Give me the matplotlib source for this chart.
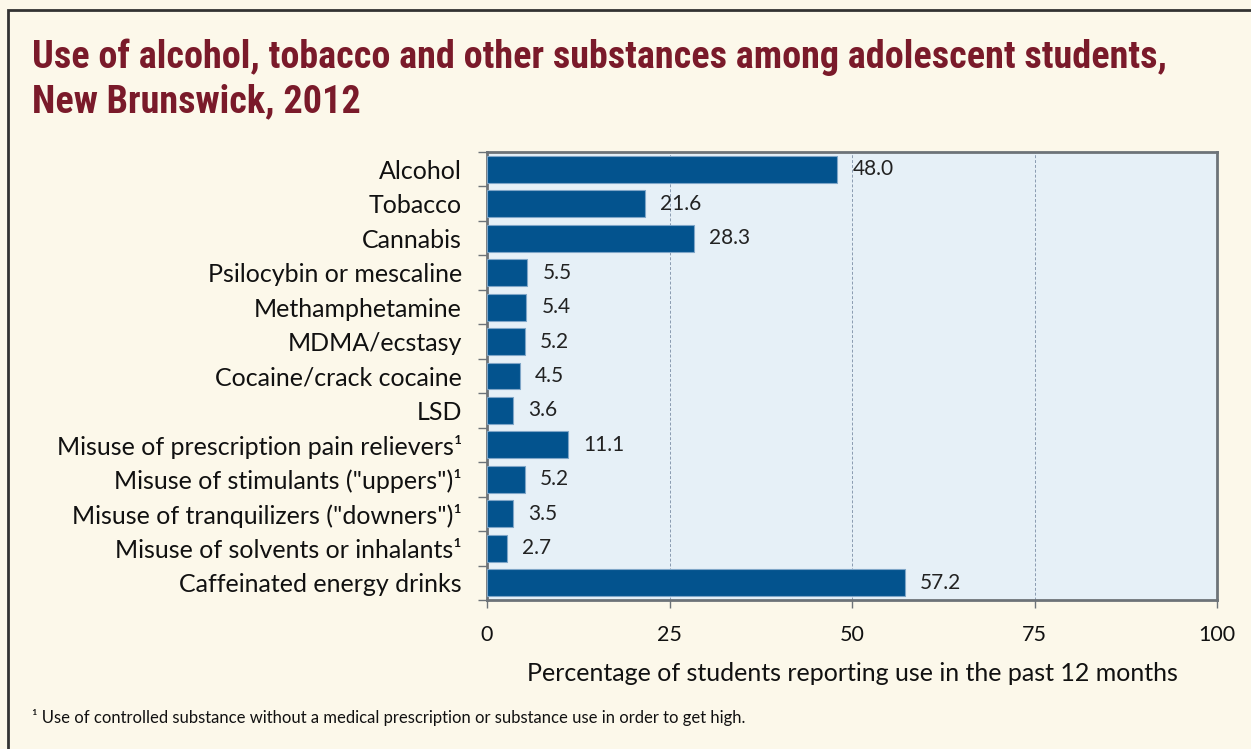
import numpy as np
import matplotlib
matplotlib.use("Agg")
import matplotlib.pyplot as plt
from matplotlib import font_manager
from matplotlib.patches import Rectangle

## Data

categories = [
    "Alcohol",
    "Tobacco",
    "Cannabis",
    "Psilocybin or mescaline",
    "Methamphetamine",
    "MDMA/ecstasy",
    "Cocaine/crack cocaine",
    "LSD",
    "Misuse of prescription pain relievers\u00b9",
    "Misuse of stimulants (\"uppers\")\u00b9",
    "Misuse of tranquilizers (\"downers\")\u00b9",
    "Misuse of solvents or inhalants\u00b9",
    "Caffeinated energy drinks",
]
values = [48.0, 21.6, 28.3, 5.5, 5.4, 5.2, 4.5, 3.6, 11.1, 5.2, 3.5, 2.7, 57.2]
xticks = [0, 25, 50, 75, 100]

title_lines = ["Use of alcohol, tobacco and other substances among adolescent students,",
               "New Brunswick, 2012"]
xlabel = "Percentage of students reporting use in the past 12 months"
footnote = "\u00b9 Use of controlled substance without a medical prescription or substance use in order to get high."

plt.rcParams['font.family'] = ['Lato', 'DejaVu Sans']

bg = '#fcf8ea'
plot_bg = '#e6f0f7'
bar_col = '#03538e'
spine_col = '#6d7378'
title_col = '#7a1a2a'

# pick a narrow bold face for the title if one is installed
title_font = {'family': ['Lato', 'DejaVu Sans']}
for f in font_manager.fontManager.ttflist:
    if f.name in ('Liberation Sans Narrow', 'Roboto Condensed', 'Open Sans Condensed'):
        title_font = {'family': [f.name, 'DejaVu Sans']}
        break
    if f.name == 'DejaVu Sans' and 'condensed' in str(f.stretch):
        title_font = {'family': ['DejaVu Sans'], 'stretch': 'condensed'}

fig = plt.figure(figsize=(12.51, 7.49), dpi=100, facecolor=bg)

# frame round the figure (left and top edges visible, rest cropped)
fig.patches.append(Rectangle((8 / 1251, -0.1), 1.2, 1 - 10 / 749 + 0.1,
                             transform=fig.transFigure, fill=False,
                             edgecolor='#333333', linewidth=2))

ax = fig.add_axes([487 / 1251, 1 - 600 / 749, 730 / 1251, 448 / 749])
ax.set_facecolor(plot_bg)

y = np.arange(len(categories))
ax.barh(y, values, height=0.78, color=bar_col, edgecolor='#7fa6c8',
        linewidth=0.8, zorder=3)

for yi, v in zip(y, values):
    ax.text(v + 2.1, yi, "%.1f" % v, va='center', ha='left',
            fontsize=15, color='#222222', zorder=4)

ax.set_xlim(0, 100)
ax.set_ylim(len(categories) - 0.5, -0.5)

ax.set_xticks(xticks)
ax.set_xticklabels([str(t) for t in xticks], fontsize=15.5)
ax.tick_params(axis='x', length=6, width=1, color=spine_col, pad=12,
               labelcolor='#111111', direction='out')

ax.set_yticks(y)
ax.set_yticklabels(categories, fontsize=18)
ax.tick_params(axis='y', which='major', length=0, pad=18, labelcolor='#111111')
ax.set_yticks(np.arange(len(categories) + 1) - 0.5, minor=True)
ax.tick_params(axis='y', which='minor', length=6.5, width=1, color=spine_col,
               direction='out')

ax.xaxis.grid(True, color='#8a9bb0', linestyle=(0, (3, 2)), linewidth=0.7, zorder=1)
ax.set_axisbelow(True)

for s in ax.spines.values():
    s.set_color(spine_col)
    s.set_linewidth(2)

ax.set_xlabel(xlabel, fontsize=18, labelpad=12, color='#111111')

# title, two lines, scaled so the first line spans the reference width
t1 = fig.text(32 / 1251, 1 - 68 / 749, title_lines[0], fontsize=31, fontweight='bold',
              color=title_col, va='baseline', ha='left', **title_font)
t2 = fig.text(32 / 1251, 1 - 112 / 749, title_lines[1], fontsize=31, fontweight='bold',
              color=title_col, va='baseline', ha='left', **title_font)
r = fig.canvas.get_renderer()
w = t1.get_window_extent(renderer=r).width
size = min(31 * 1131 / w, 34)
t1.set_fontsize(size)
t2.set_fontsize(size)

fig.text(32 / 1251, 1 - 717 / 749, footnote, fontsize=12, color='#111111',
         va='center', ha='left')

fig.savefig("out.png", dpi=100, facecolor=bg)
